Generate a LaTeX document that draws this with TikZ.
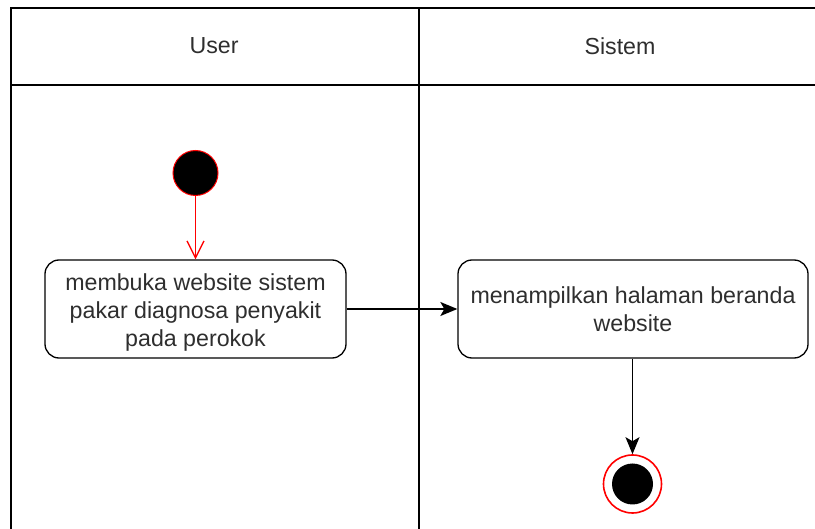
\documentclass[tikz,border=0pt]{standalone}
\usepackage{fontspec}
\setmainfont{Liberation Sans}
\usetikzlibrary{arrows.meta}
\definecolor{txt}{HTML}{2E2E2E}
\tikzset{
  lane/.style={draw=black, line width=1.5pt},
  lanelabel/.style={font=\fontsize{23.2}{28}\selectfont, text=txt},
  actionbox/.style={draw=black, line width=1.3pt, rounded corners=14pt, inner sep=0pt},
  actiontext/.style={align=center, font=\fontsize{23.2}{28}\selectfont, text=txt, inner sep=0pt},
  startnode/.style={circle, fill=black, draw=red, line width=1pt, minimum size=45pt, inner sep=0pt},
  endring/.style={circle, draw=red, line width=1.6pt, minimum size=58pt, inner sep=0pt},
  endcore/.style={circle, fill=black, minimum size=41pt, inner sep=0pt},
  flow/.style={line width=1.4pt, -{Stealth[length=17pt, width=14pt, inset=4pt]}},
  redflow/.style={draw=red, line width=1.3pt, -{Straight Barb[length=17pt, width=17pt]}}
}
\begin{document}
\begin{tikzpicture}[x=1pt, y=-1pt]
  \useasboundingbox (0,0) rectangle (815,529);
  % swimlane frame
  \draw[lane] (815,8) -- (11,8) -- (11,529);
  \draw[lane] (11,85) -- (815,85);
  \draw[lane] (419,8) -- (419,529);
  \node[lanelabel] (userlbl) at (214,46) {User};
  \node[lanelabel] (sislbl) at (620,46) {Sistem};

  % activities
  \node[startnode] (start) at (195.5,173) {};
  \node[actionbox, minimum width=301pt, minimum height=98pt] (open) at (195.5,309) {};
  \node[actiontext] (opentext) at ([yshift=-3.5pt]open.center)
    {membuka website sistem\\pakar diagnosa penyakit\\pada perokok};
  \node[actionbox, minimum width=350pt, minimum height=98pt] (home) at (633,309) {};
  \node[actiontext] (hometext) at (home.center) {menampilkan halaman beranda\\website};
  \node[endring] (finish) at (632.5,484) {};
  \node[endcore] (finishcore) at (finish.center) {};

  % transitions
  \draw[redflow] (start) -- (open);
  \draw[flow] (open) -- (home);
  \draw[flow] (home.south -| finish) -- (finish);
\end{tikzpicture}
\end{document}
